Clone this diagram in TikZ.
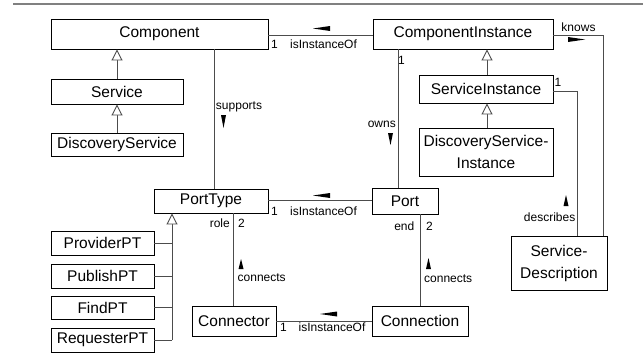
\documentclass[tikz,border=0pt]{standalone}
\usepackage{fontspec}
\setmainfont{Liberation Sans}
\usetikzlibrary{arrows.meta}
\begin{document}
\begin{tikzpicture}[x=1pt,y=-1pt,
  cls/.style={draw=black,line width=0.9pt,fill=white,inner sep=0pt,
    font=\fontsize{15.5}{22}\selectfont,align=center},
  lbl/.style={inner sep=0pt,font=\fontsize{12}{14}\selectfont},
  assoc/.style={draw=black!70,line width=1pt},
  gen/.style={draw=black!70,line width=1pt,
    -{Triangle[open,length=11pt,width=11pt,line width=0.9pt,fill=white]}},
  dir/.style={fill=black}]
\useasboundingbox (0,0) rectangle (643,356);
% rule across the top
\draw[black!50,line width=1.5pt] (13,4) -- (643,4);

% classes
\node[cls,minimum width=217pt,minimum height=30pt] (comp) at (159.5,34) {Component};
\node[cls,minimum width=132pt,minimum height=25pt] (serv) at (117,91.5) {Service};
\node[cls,minimum width=132pt,minimum height=23pt] (dserv) at (117,144.5) {DiscoveryService};
\node[cls,minimum width=180pt,minimum height=30pt] (cinst) at (463,34) {ComponentInstance};
\node[cls,minimum width=134pt,minimum height=28pt] (sinst) at (486,89) {ServiceInstance};
\node[cls,minimum width=134pt,minimum height=48pt] (dsinst) at (486,152) {DiscoveryService-\\Instance};
\node[cls,minimum width=96pt,minimum height=54pt] (sdesc) at (559,263) {Service-\\Description};
\node[cls,minimum width=66pt,minimum height=26pt] (port) at (405,201) {Port};
\node[cls,minimum width=114pt,minimum height=24pt] (ptype) at (211,201) {PortType};
\node[cls,minimum width=84pt,minimum height=30pt] (ctor) at (234,321) {Connector};
\node[cls,minimum width=96pt,minimum height=30pt] (ction) at (420,321) {Connection};
\node[cls,minimum width=103pt,minimum height=24pt] (prov) at (102.5,243) {ProviderPT};
\node[cls,minimum width=103pt,minimum height=24pt] (publ) at (102.5,276) {PublishPT};
\node[cls,minimum width=103pt,minimum height=23pt] (find) at (102.5,307.5) {FindPT};
\node[cls,minimum width=103pt,minimum height=24pt] (requ) at (102.5,340) {RequesterPT};

% generalizations
\draw[gen] (serv.north) -- (serv.north |- comp.south);
\draw[gen] (dserv.north) -- (dserv.north |- serv.south);
\draw[gen] ([xshift=1pt]sinst.north) -- ([xshift=1pt]sinst.north |- cinst.south);
\draw[gen] ([xshift=1pt]dsinst.north) -- ([xshift=1pt]dsinst.north |- sinst.south);
\coordinate (gtop) at ([xshift=-39pt]ptype.south);
\coordinate (gbot) at (gtop |- requ.east);
\draw[gen] (gbot) -- (gtop);
\foreach \n in {prov,publ,find,requ}
  \draw[assoc] (\n.east) -- (\n.east -| gtop);

% associations
\draw[assoc] ([yshift=-1pt]comp.east) -- ([yshift=-1pt]comp.east -| cinst.west);
\draw[assoc] ([xshift=3pt]ptype.north) -- ([xshift=3pt]ptype.north |- comp.south);
\coordinate (ownx) at ([xshift=-65pt]cinst.south);
\draw[assoc] (ownx) -- (ownx |- port.north);
\draw[assoc] ([yshift=-1pt]cinst.east) -| ([xshift=44pt]sdesc.north);
\draw[assoc] ([yshift=-2pt]sinst.east) -| ([xshift=18pt]sdesc.north);
\draw[assoc] ([yshift=1pt]ptype.east) -- ([yshift=1pt]ptype.east -| port.west);
\draw[assoc] ([xshift=22pt]ptype.south) -- ([xshift=22pt]ptype.south |- ctor.north);
\draw[assoc] ([xshift=15pt]port.south) -- ([xshift=15pt]port.south |- ction.north);
\draw[assoc] (ctor.east) -- (ction.west);

% association labels
\node[lbl] (m1) at (274.5,44) {1};
\node[lbl] (ia) at (323.5,44) {isInstanceOf};
\node[lbl] (kn) at (578.5,27) {knows};
\node[lbl] (m2) at (558,82) {1};
\node[lbl] (sp) at (239,107) {supports};
\node[lbl] (m3) at (401.5,60) {1};
\node[lbl,anchor=east] (ow) at (396,124) {owns};
\node[lbl,anchor=east] (ds) at (575.5,217) {describes};
\node[lbl,anchor=east] (rl) at (230,223) {role};
\node[lbl] (m4) at (241.5,223) {2};
\node[lbl,anchor=west] (cn1) at (237.5,277.5) {connects};
\node[lbl,anchor=east] (en) at (414.5,226) {end};
\node[lbl] (m5) at (429.5,226) {2};
\node[lbl,anchor=west] (cn2) at (424,278.5) {connects};
\node[lbl] (m6) at (274.5,211) {1};
\node[lbl] (ib) at (323.5,211) {isInstanceOf};
\node[lbl] (m7) at (283.5,327) {1};
\node[lbl] (ic) at (332,327) {isInstanceOf};

% reading directions
\fill[dir] (313,28.5) -- (330,26) -- (330,31) -- cycle;
\fill[dir] (313,195.5) -- (330,193) -- (330,198) -- cycle;
\fill[dir] (320,314) -- (337,311.5) -- (337,316.5) -- cycle;
\fill[dir] (585,39.5) -- (568,37) -- (568,42) -- cycle;
\fill[dir] (223.5,128) -- (221,115) -- (226,115) -- cycle;
\fill[dir] (390.5,145) -- (388,133) -- (393,133) -- cycle;
\fill[dir] (566,195) -- (563.5,206) -- (568.5,206) -- cycle;
\fill[dir] (241,259) -- (238.5,269) -- (243.5,269) -- cycle;
\fill[dir] (428.5,258) -- (426,269) -- (431,269) -- cycle;
\end{tikzpicture}
\end{document}
